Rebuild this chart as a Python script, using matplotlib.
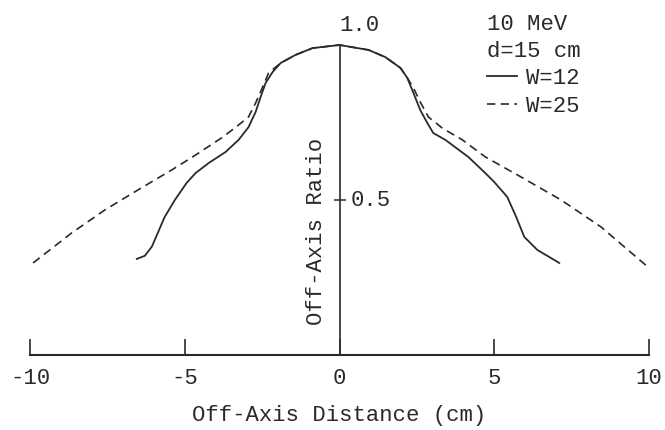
import matplotlib
matplotlib.use("Agg")
import matplotlib.pyplot as plt

# ---- data ----
x_w12 = [-6.55, -6.29, -6.06, -5.87, -5.65, -5.32, -4.94, -4.65, -4.23, -3.68, -3.26,
         -2.94, -2.71, -2.55, -2.39, -2.16, -1.90, -1.42, -0.87, 0.0, 0.94, 1.48, 1.97,
         2.19, 2.39, 2.61, 2.84, 3.03, 3.42, 4.16, 4.71, 5.0, 5.42, 5.71, 5.97, 6.39, 7.1]
y_w12 = [0.31, 0.32, 0.35, 0.394, 0.445, 0.50, 0.555, 0.587, 0.619, 0.655, 0.694,
         0.735, 0.784, 0.832, 0.877, 0.913, 0.942, 0.968, 0.990, 1.0, 0.984, 0.961, 0.926,
         0.894, 0.845, 0.79, 0.748, 0.716, 0.694, 0.639, 0.587, 0.558, 0.51, 0.445, 0.381,
         0.339, 0.297]

x_w25 = [-9.9, -8.65, -7.58, -6.52, -5.42, -4.65, -3.77, -3.26, -2.94, -2.71, -2.48,
         -2.29, -1.90, -1.42, -0.87, 0.0, 0.94, 1.48, 1.97, 2.19, 2.39, 2.61, 2.87, 3.32,
         3.97, 4.71, 5.87, 7.16, 8.45, 10.0]
y_w25 = [0.297, 0.394, 0.468, 0.532, 0.597, 0.645, 0.703, 0.742, 0.768, 0.813, 0.865,
         0.91, 0.942, 0.968, 0.990, 1.0, 0.984, 0.961, 0.926, 0.894, 0.861, 0.816, 0.768,
         0.732, 0.694, 0.639, 0.574, 0.50, 0.413, 0.281]

x_ticks = [-10, -5, 0, 5, 10]
x_tick_labels = ["-10", "-5", "0", "5", "10"]
y_ticks = [0.5]
y_tick_labels = ["0.5"]
y_top_value = 1.0
y_top_label = "1.0"

series_labels = ["W=12", "W=25"]
legend_title = "10 MeV\nd=15 cm"
x_label = "Off-Axis Distance (cm)"
y_label = "Off-Axis Ratio"

# ---- style ----
INK = "#2a2a2a"
FONT = ["Liberation Mono", "DejaVu Sans Mono"]
plt.rcParams["font.family"] = FONT
plt.rcParams["font.size"] = 16
plt.rcParams["axes.unicode_minus"] = False
plt.rcParams["text.color"] = INK

fig = plt.figure(figsize=(6.65, 4.30), dpi=100, facecolor="white")
ax = fig.add_axes([30 / 665, 75 / 430, 619 / 665, 310 / 430])
ax.set_facecolor("white")

ax.plot(x_w25, y_w25, color=INK, lw=1.2, dashes=(5.0, 3.2), label=series_labels[1],
        clip_on=False, zorder=2, solid_joinstyle="round")
ax.plot(x_w12, y_w12, color=INK, lw=1.3, label=series_labels[0], clip_on=False,
        zorder=3, solid_joinstyle="round")

ax.set_xlim(-10, 10)
ax.set_ylim(0, 1.0)

for s in ("top", "right"):
    ax.spines[s].set_visible(False)
ax.spines["left"].set_position(("data", 0))
ax.spines["left"].set_bounds(0, y_top_value)
ax.spines["left"].set_color(INK)
ax.spines["left"].set_linewidth(1.2)
ax.spines["bottom"].set_color(INK)
ax.spines["bottom"].set_linewidth(1.5)

ax.set_xticks(x_ticks)
ax.set_xticklabels(x_tick_labels)
ax.tick_params(axis="x", direction="in", length=11.5, width=1.2, color=INK,
               labelcolor=INK, pad=9, labelsize=16)
ax.set_yticks(y_ticks)
ax.tick_params(axis="y", direction="inout", length=8, width=1.1, color=INK,
               labelleft=False)

for v, lab in zip(y_ticks, y_tick_labels):
    ax.annotate(lab, xy=(0, v), xytext=(8, 0), textcoords="offset points",
                ha="left", va="center", fontsize=16, color=INK)
ax.annotate(y_top_label, xy=(0, y_top_value), xytext=(0, 6.5), textcoords="offset points",
            ha="left", va="bottom", fontsize=16, color=INK)

ax.set_xlabel(x_label, fontsize=16, color=INK, labelpad=12)
ax.set_ylabel(y_label, fontsize=16, color=INK, va="center")
ax.yaxis.set_label_coords((317 - 30) / 619, 0.40)

handles, labels = ax.get_legend_handles_labels()
order = [1, 0]
leg = ax.legend([handles[i] for i in order], [labels[i] for i in order],
                title=legend_title, alignment="left", loc="upper left",
                bbox_to_anchor=(487 / 665, 1 - 14 / 430), bbox_transform=fig.transFigure,
                frameon=False, borderpad=0, borderaxespad=0, handlelength=1.35,
                handletextpad=0.4, labelspacing=0.3, fontsize=16, title_fontsize=16)
leg.get_title().set_color(INK)
leg.get_title().set_linespacing(1.35)

fig.savefig("out.png", dpi=100, facecolor="white")
